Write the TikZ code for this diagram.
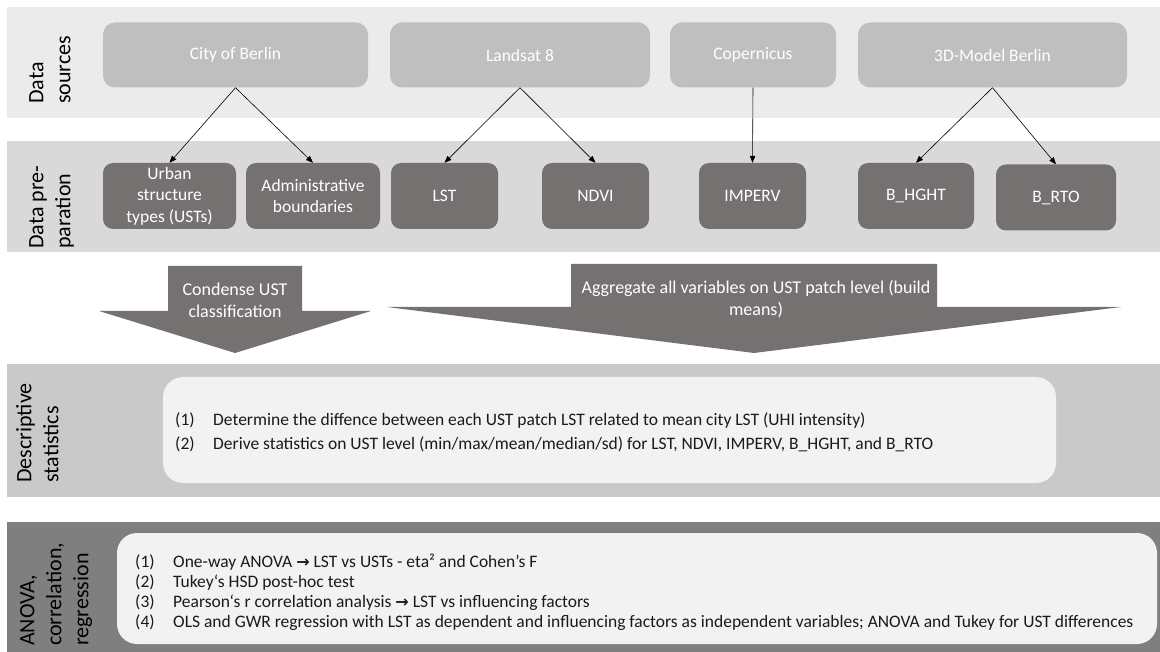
\documentclass[tikz,border=0pt]{standalone}
\usepackage{fontspec}
\setmainfont{Carlito}
\newfontfamily\djv{DejaVu Sans}
\usetikzlibrary{arrows.meta}
\definecolor{bandA}{HTML}{EBEBEB}
\definecolor{bandB}{HTML}{D9D9D9}
\definecolor{bandC}{HTML}{C9C9C9}
\definecolor{bandD}{HTML}{7F7F7F}
\definecolor{srcgray}{HTML}{BFBFBF}
\definecolor{prepgray}{HTML}{767171}
\definecolor{listbg}{HTML}{F2F2F2}
\definecolor{txtdark}{HTML}{1A1A1A}
\newcommand{\itm}[1]{\makebox[38pt][l]{#1}}
\newcommand{\rar}{{\djv\fontsize{16}{18}\selectfont\bfseries →}}
\begin{document}
\begin{tikzpicture}[x=1pt,y=-1pt,
  src/.style={fill=srcgray, rounded corners=12pt, text=white, minimum height=65pt, inner sep=0pt,
    font=\fontsize{17.5}{21.4}\selectfont, align=center},
  prep/.style={fill=prepgray, rounded corners=10pt, text=white, minimum height=66pt, inner sep=0pt,
    font=\fontsize{17.5}{21.4}\selectfont, align=center},
  conn/.style={draw=black, line width=0.6pt, -{Triangle[length=7pt,width=5.5pt]}},
  lbl/.style={rotate=90, anchor=north west, inner sep=0pt, align=left, text=black,
    font=\fontsize{22}{27}\selectfont},
  bigarrow/.style={fill=prepgray},
  arrtxt/.style={text=white, align=center, inner sep=0pt, font=\fontsize{18}{22}\selectfont},
  listbox/.style={fill=listbg, rounded corners=20pt},
  listtxt/.style={anchor=west, align=left, inner sep=0pt, text=txtdark, font=\fontsize{17.5}{20}\selectfont}
]
\useasboundingbox (0,0) rectangle (1160,652);
% bands
\fill[bandA] (7,7) rectangle (1160,118);
\fill[bandB] (7,141) rectangle (1160,252);
\fill[bandC] (7,364) rectangle (1160,497);
\fill[bandD] (7,522) rectangle (1160,652);
% band labels
\node[lbl] (l1) at (29,104) {Data\\sources};
\node[lbl] (l2) at (29,249) {Data pre-\\paration};
\node[lbl] (l3) at (16,483) {Descriptive\\statistics};
\node[lbl] (l4) at (20,646) {ANOVA,\\correlation,\\regression};
% sources
\node[src, minimum width=265pt] (city) at (235.5,55) {City of Berlin};
\node[src, minimum width=260pt] (land) at (520,55) {Landsat 8};
\node[src, minimum width=166pt] (cop) at (753,55) {Copernicus};
\node[src, minimum width=269pt] (mod) at (992.5,55) {3D-Model Berlin};
% preparation
\node[prep, minimum width=133pt] (ust) at (169.5,196) {Urban\\structure\\types (USTs)};
\node[prep, minimum width=134pt] (adm) at (313,196) {Administrative\\boundaries};
\node[prep, minimum width=107pt] (lst) at (444.5,196) {LST};
\node[prep, minimum width=107pt] (ndvi) at (595.5,196) {NDVI};
\node[prep, minimum width=107pt] (imp) at (752.5,196) {IMPERV};
\node[prep, minimum width=116pt] (hght) at (916,196) {B\_HGHT};
\node[prep, minimum width=120pt] (rto) at (1056,197.5) {B\_RTO};
% connectors
\draw[conn] (city.south) -- (ust.north);
\draw[conn] (city.south) -- (adm.north);
\draw[conn] (land.south) -- (lst.north);
\draw[conn] (land.south) -- (ndvi.north);
\draw[conn] (cop.south) -- (imp.north);
\draw[conn] (mod.south) -- (hght.north);
\draw[conn] (mod.south) -- (rto.north);
% big arrows
\fill[bigarrow] (168,266) -- (302,266) -- (302,311) -- (371,311) -- (235,353) -- (99,311) -- (168,311) -- cycle;
\node[arrtxt] (a1) at (235,300) {Condense UST\\classification};
\fill[bigarrow] (571,264) -- (937,264) -- (937,307) -- (1121,307) -- (754,353) -- (387,307) -- (571,307) -- cycle;
\node[arrtxt] (a2) at (756,299) {Aggregate all variables on UST patch level (build\\means)};
% descriptive statistics
\fill[listbox] (163,377) rectangle (1056,483);
\node[listtxt] (d1) at (175,432) {\itm{(1)}Determine the diffence between each UST patch LST related to mean city LST (UHI intensity)\\[4pt]
\itm{(2)}Derive statistics on UST level (min/max/mean/median/sd) for LST, NDVI, IMPERV, B\_HGHT, and B\_RTO};
% ANOVA
\fill[listbox] (117,533) rectangle (1157,644);
\node[listtxt] (r1) at (135,592) {\itm{(1)}One-way ANOVA \rar{} LST vs USTs - eta² and Cohen’s F\\
\itm{(2)}Tukey‘s HSD post-hoc test\\
\itm{(3)}Pearson‘s r correlation analysis \rar{} LST vs influencing factors\\
\itm{(4)}OLS and GWR regression with LST as dependent and influencing factors as independent variables; ANOVA and Tukey for UST differences};
\end{tikzpicture}
\end{document}
